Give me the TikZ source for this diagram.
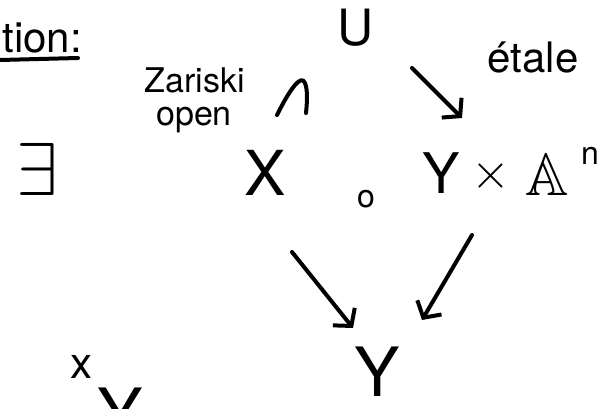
\documentclass[tikz,border=0pt]{standalone}
\usepackage{amssymb}
\usepackage{graphicx}
\usepackage{fontspec}
\setmainfont{TeX Gyre Heros}
\usetikzlibrary{arrows.meta,calc}
\newcommand{\fs}[1]{\fontsize{#1}{#1}\selectfont}
\begin{document}
\begin{tikzpicture}[x=1pt,y=-1pt,
  lbl/.style={inner sep=0pt,outer sep=0pt,text=black,anchor=base},
  hand/.style={line width=4pt,line cap=round,line join=round},
  harrow/.style={hand,-{Straight Barb[length=12pt,width=28pt]}},
]
\useasboundingbox (0,0) rectangle (605,408);
\clip (0,0) rectangle (605,408);
% heading (cut off at the left edge)
\node[lbl,anchor=base east,font=\fs{42}] (def) at (82,52) {Definition:};
\draw[hand] (0,60) -- (78,58);
% exists
\node[lbl] (ex) at (37,195) {\scalebox{7.5}{$\exists$}};
% labels
\node[lbl,font=\fs{34}] (zar) at (195,92) {Zariski};
\node[lbl,font=\fs{34}] (open) at (194,125) {open};
\node[lbl,font=\fs{42}] (etale) at (533,72) {étale};
% objects
\node[lbl,font=\fs{50}] (U) at (356,45) {U};
\node[lbl,font=\fs{62}] (X) at (265,195) {X};
\node[lbl,font=\fs{32}] (comp) at (366,207) {o};
\node[lbl,font=\fs{56}] (YA) at (441,193) {Y};
\node[lbl] (times) at (491,188) {\scalebox{5}{$\times$}};
\node[lbl] (A) at (547,195) {\scalebox{6}{$\mathbb{A}$}};
\node[lbl,font=\fs{32}] (n) at (590,164) {n};
\node[lbl,font=\fs{68}] (Y) at (377,396) {Y};
% bottom left fragments
\node[lbl,font=\fs{44}] (x) at (81,378) {x};
\node[lbl,font=\fs{68}] (Yb) at (120,437) {Y};
% hooked arrow X -> U
\draw[hand] ($(X.base)+(12,-80)$) .. controls ($(X.base)+(24,-104)$) and ($(X.base)+(36,-122)$) .. ($(X.base)+(40,-112)$)
  .. controls ($(X.base)+(43,-104)$) and ($(X.base)+(42,-92)$) .. ($(X.base)+(41,-82)$);
% other arrows
\draw[harrow] ($(U.base)+(56,23)$) -- ($(YA.base)+(21,-75)$);
\draw[harrow] ($(X.base)+(27,57)$) -- ($(Y.base)+(-24,-68)$);
\draw[harrow] ($(YA.base)+(31,42)$) -- ($(Y.base)+(45,-76)$);
\end{tikzpicture}
\end{document}
